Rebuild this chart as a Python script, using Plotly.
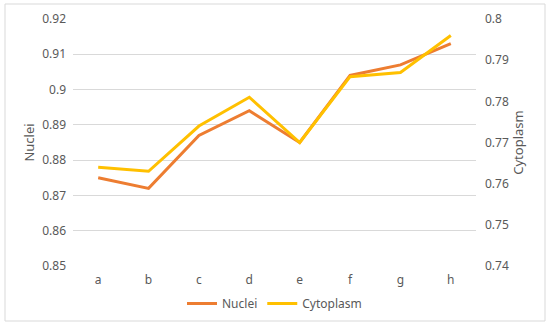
import plotly.graph_objects as go

categories = ["a", "b", "c", "d", "e", "f", "g", "h"]
nuclei = [0.875, 0.872, 0.887, 0.894, 0.885, 0.904, 0.907, 0.913]
cytoplasm = [0.764, 0.763, 0.774, 0.781, 0.770, 0.786, 0.787, 0.796]

left_ticks = [0.85, 0.86, 0.87, 0.88, 0.89, 0.90, 0.91, 0.92]
left_labels = ["0.85", "0.86", "0.87", "0.88", "0.89", "0.9", "0.91", "0.92"]
right_ticks = [0.74, 0.75, 0.76, 0.77, 0.78, 0.79, 0.80]
right_labels = ["0.74", "0.75", "0.76", "0.77", "0.78", "0.79", "0.8"]

FONT = "Noto Sans, DejaVu Sans, sans-serif"
TXT = "#595959"

fig = go.Figure()
fig.add_trace(go.Scatter(x=categories, y=nuclei, name="Nuclei", mode="lines",
                         line=dict(color="#ED7D31", width=3), yaxis="y"))
fig.add_trace(go.Scatter(x=categories, y=cytoplasm, name="Cytoplasm", mode="lines",
                         line=dict(color="#FFC000", width=3), yaxis="y2"))

fig.update_layout(
    width=550, height=326, autosize=False,
    margin=dict(l=73, r=74, t=19, b=60, pad=0, autoexpand=False),
    paper_bgcolor="white", plot_bgcolor="white",
    font=dict(family=FONT, size=12, color=TXT),
    showlegend=True,
    legend=dict(orientation="h", x=0.5, xanchor="center",
                yref="container", y=(326 - 289) / 326, yanchor="top",
                font=dict(size=12, color=TXT), tracegroupgap=0),
    xaxis=dict(type="category", showgrid=False, zeroline=False, showline=False,
               ticks="", tickfont=dict(size=12, color=TXT), range=[-0.5, 7.5],
               ticklabelstandoff=5, automargin=False),
    yaxis=dict(range=[0.85, 0.92], tickvals=left_ticks, ticktext=left_labels,
               showgrid=True, gridcolor="#D9D9D9", gridwidth=1, zeroline=False,
               showline=False, ticks="", tickfont=dict(size=12, color=TXT),
               ticklabelstandoff=6, automargin=False,
               title=dict(text="Nuclei", font=dict(size=13, color=TXT), standoff=4)),
    yaxis2=dict(range=[0.74, 0.80], tickvals=right_ticks, ticktext=right_labels,
                overlaying="y", side="right", showgrid=False, zeroline=False,
                showline=False, ticks="", tickfont=dict(size=12, color=TXT),
                ticklabelstandoff=8, automargin=False,
                title=dict(text="Cytoplasm", font=dict(size=13, color=TXT), standoff=3)),
    shapes=[dict(type="rect", xref="paper", yref="paper",
                 x0=(5 - 73) / 403, x1=(545 - 73) / 403,
                 y0=(266 - 321) / 247, y1=(266 - 4) / 247,
                 line=dict(color="#D9D9D9", width=1),
                 fillcolor="rgba(0,0,0,0)", layer="below")],
)

fig.write_html("out.html",
               config={"displayModeBar": False, "staticPlot": True},
               post_script="document.body.style.margin='0';document.body.style.overflow='hidden';")
